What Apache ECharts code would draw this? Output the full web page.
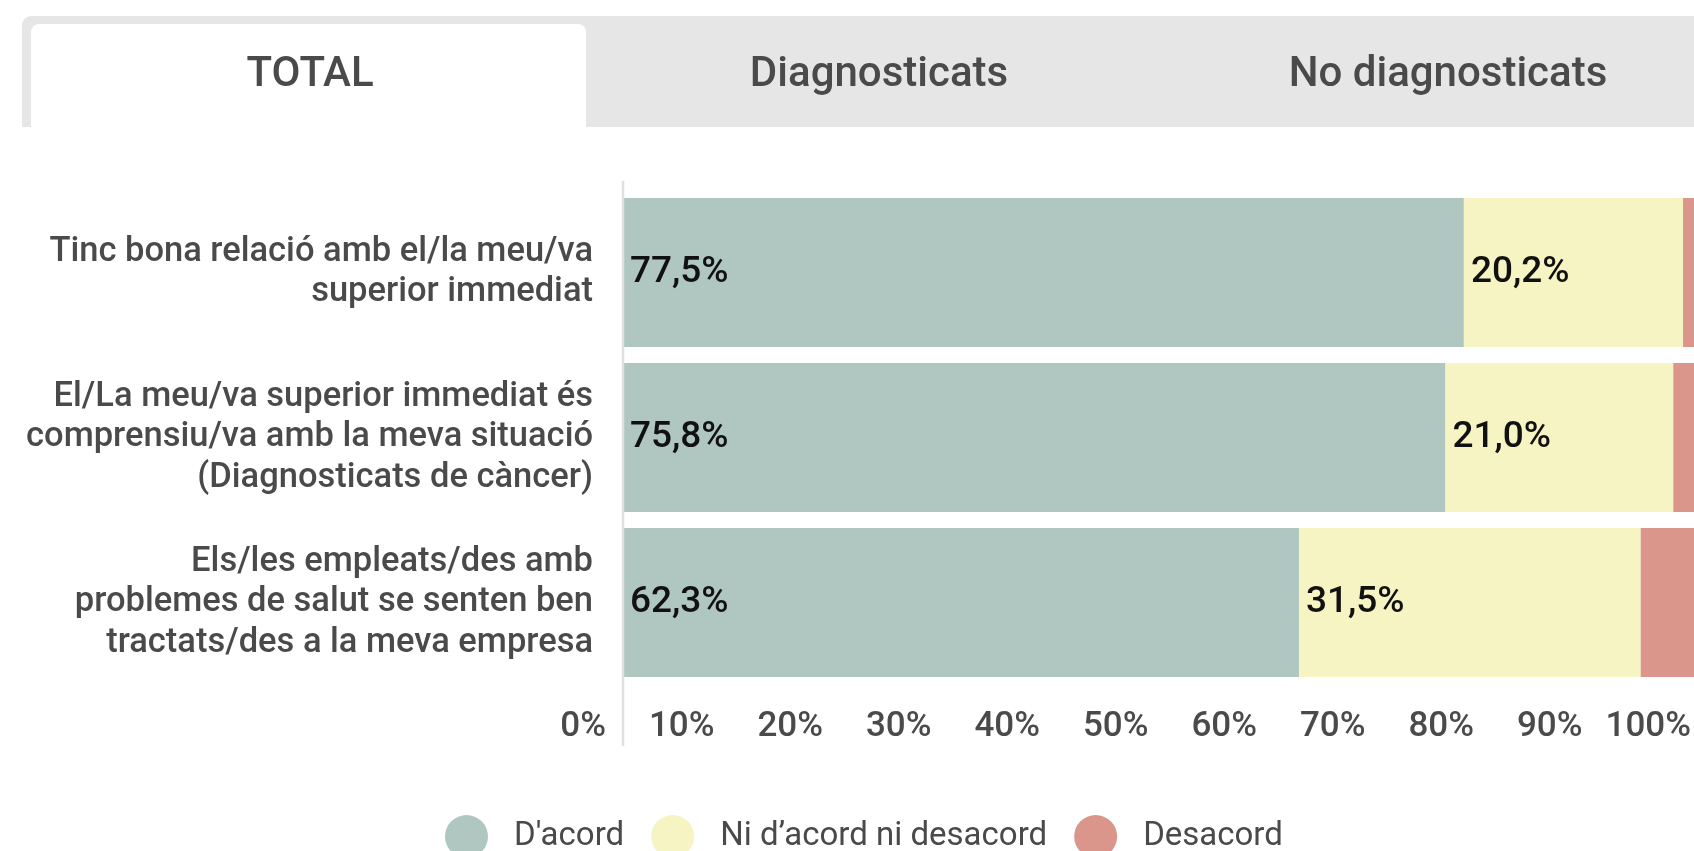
<!DOCTYPE html>
<html>
<head>
<meta charset="utf-8">
<script src="https://cdn.jsdelivr.net/npm/echarts@6/dist/echarts.min.js"></script>
<style>
  html, body { margin: 0; padding: 0; background: #fff; }
  #chart { width: 1694px; height: 851px; }
</style>
</head>
<body>
<div id="chart"></div>
<script>
// tabs above the chart
const tabs = ['TOTAL', 'Diagnosticats', 'No diagnosticats']

// categories, top to bottom
const categories = [
  'Tinc bona relació amb el/la meu/va\nsuperior immediat',
  'El/La meu/va superior immediat és\ncomprensiu/va amb la meva situació\n(Diagnosticats de càncer)',
  'Els/les empleats/des amb\nproblemes de salut se senten ben\ntractats/des a la meva empresa'
]

const seriesNames = ["D'acord", 'Ni d’acord ni desacord', 'Desacord']
const acord = [77.5, 75.8, 62.3]
const niAcord = [20.2, 21.0, 31.5]
const desacord = [2.3, 3.2, 6.2]

const colors = ['#b0c6c0', '#f6f4c2', '#da968a']
const textGrey = '#4a4a4a'
const font = 'Roboto'

const chart = echarts.init(document.getElementById('chart'))

const fmt = v => v.toFixed(1).replace('.', ',') + '%'

const valueLabel = {
  show: true,
  position: 'insideLeft',
  distance: 7,
  color: '#111',
  fontFamily: font,
  fontSize: 37,
  fontWeight: 500,
  formatter: p => fmt(p.value)
}

// tab strip
const tabWidth = 569
const tabGraphics = [
  {
    type: 'rect',
    shape: { x: 22, y: 16, width: 1700, height: 111, r: [9, 0, 0, 0] },
    style: { fill: '#e6e6e6' },
    z: 1
  },
  {
    type: 'rect',
    shape: { x: 31, y: 24, width: 555, height: 103, r: [8, 8, 0, 0] },
    style: { fill: '#ffffff' },
    z: 2
  }
]
tabs.forEach((t, i) => {
  tabGraphics.push({
    type: 'text',
    x: 310 + i * tabWidth,
    y: 75,
    style: {
      text: t,
      fill: textGrey,
      font: '500 42px ' + font,
      textAlign: 'center',
      textVerticalAlign: 'middle'
    },
    z: 3
  })
})

// vertical axis rule that runs past the plot area
tabGraphics.push({
  type: 'line',
  shape: { x1: 623, y1: 181, x2: 623, y2: 746 },
  style: { stroke: '#e0e0e0', lineWidth: 2.5 },
  z: 3
})

const option = {
  animation: false,
  backgroundColor: '#fff',
  textStyle: { fontFamily: font },
  graphic: tabGraphics,
  grid: {
    left: 623,
    width: 1085,
    top: 190,
    bottom: 166,
    containLabel: false,
    outerBoundsMode: 'none'
  },
  legend: {
    data: seriesNames,
    left: 440,
    top: 810,
    icon: 'circle',
    itemWidth: 43,
    itemHeight: 43,
    itemGap: 27,
    textStyle: {
      color: textGrey,
      fontFamily: font,
      fontSize: 33,
      padding: [0, 0, 0, 21]
    }
  },
  xAxis: {
    type: 'value',
    min: 0,
    max: 100,
    interval: 10,
    axisLine: { show: false },
    axisTick: { show: false },
    splitLine: { show: false },
    axisLabel: {
      formatter: '{value}%',
      color: textGrey,
      fontFamily: font,
      fontSize: 35,
      fontWeight: 500,
      lineHeight: 35,
      margin: 25,
      align: 'right',
      padding: [0, 17, 0, 0]
    }
  },
  yAxis: {
    type: 'category',
    data: categories,
    inverse: true,
    axisLine: { show: false },
    axisTick: { show: false },
    axisLabel: {
      color: textGrey,
      fontFamily: font,
      fontSize: 34.5,
      fontWeight: 500,
      lineHeight: 40.5,
      margin: 30,
      align: 'right',
      padding: [6, 0, 0, 0]
    }
  },
  series: [
    {
      name: seriesNames[0],
      type: 'bar',
      stack: 'total',
      data: acord,
      barWidth: 149,
      itemStyle: { color: colors[0] },
      label: valueLabel
    },
    {
      name: seriesNames[1],
      type: 'bar',
      stack: 'total',
      data: niAcord,
      barWidth: 149,
      itemStyle: { color: colors[1] },
      label: valueLabel
    },
    {
      name: seriesNames[2],
      type: 'bar',
      stack: 'total',
      data: desacord,
      barWidth: 149,
      itemStyle: { color: colors[2] },
      label: { show: false }
    }
  ]
}

chart.setOption(option)
</script>
</body>
</html>
